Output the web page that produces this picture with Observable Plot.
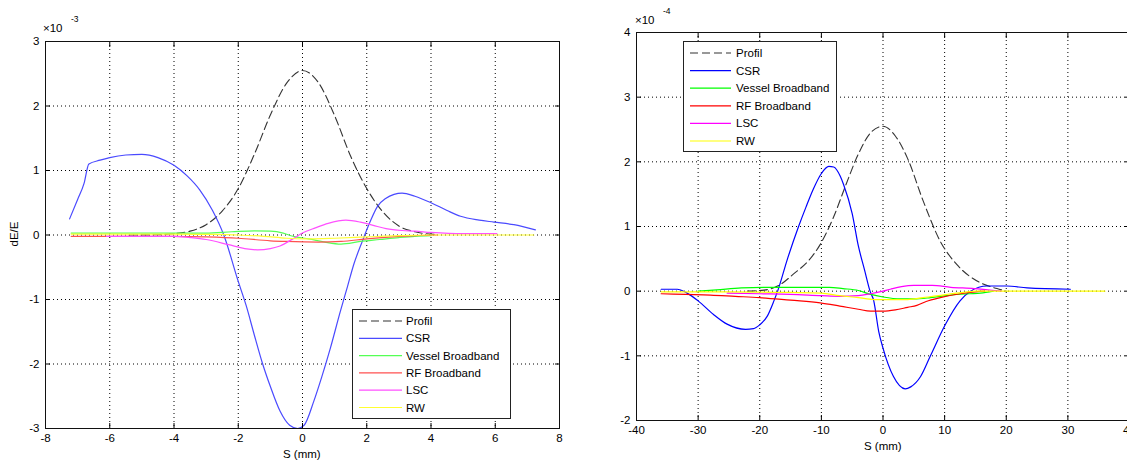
<!DOCTYPE html>
<html><head><meta charset="utf-8">
<script src="https://cdn.jsdelivr.net/npm/d3@7"></script>
<script src="https://cdn.jsdelivr.net/npm/@observablehq/plot@0.6"></script>
<style>
body{margin:0;background:#fff;}
#wrap{position:relative;width:1127px;height:461px;overflow:hidden;background:#fff;font-family:"Liberation Sans",Arial,Helvetica,sans-serif;color:#000;}
.abs{position:absolute;white-space:nowrap;line-height:1;}
</style></head><body><div id="wrap"></div>
<script>
// ---------- data ----------
const seriesNames = ["Profil", "CSR", "Vessel Broadband", "RF Broadband", "LSC", "RW"];

const leftXTicks = [-8, -6, -4, -2, 0, 2, 4, 6, 8];
const leftYTicks = [-3, -2, -1, 0, 1, 2, 3];
const rightXTicks = [-40, -30, -20, -10, 0, 10, 20, 30, 40];
const rightYTicks = [-2, -1, 0, 1, 2, 3, 4];

// left panel, dE/E in units of 1e-3, S in mm
const leftProfil = [[-5.4,0],[-4.5,0.005],[-4,0.02],[-3.5,0.06],[-3,0.16],[-2.5,0.37],[-2,0.72],[-1.5,1.25],[-1,1.86],[-0.5,2.35],[0,2.55],[0.5,2.36],[1,1.85],[1.5,1.22],[2,0.72],[2.5,0.36],[3,0.14],[3.5,0.05],[4.1,0.01]];
const leftCSR = [[-7.25,0.25],[-7,0.55],[-6.8,0.8],[-6.65,1.1],[-6.3,1.16],[-6,1.2],[-5.5,1.24],[-5,1.25],[-4.5,1.2],[-4,1.08],[-3.6,0.92],[-3.2,0.7],[-2.8,0.38],[-2.45,0],[-2,-0.72],[-1.75,-1.1],[-1.5,-1.55],[-1.24,-2.0],[-1,-2.35],[-0.7,-2.73],[-0.4,-2.95],[-0.15,-3.0],[0.05,-2.95],[0.35,-2.58],[0.6,-2.2],[0.87,-1.75],[1.18,-1.18],[1.4,-0.8],[1.6,-0.45],[1.86,-0.1],[2.1,0.2],[2.33,0.44],[2.6,0.57],[2.85,0.63],[3.1,0.65],[3.5,0.6],[4,0.5],[4.5,0.38],[4.92,0.29],[5.5,0.23],[5.96,0.2],[6.58,0.16],[7.25,0.08]];
const leftVessel = [[-7.2,0.03],[-5,0.03],[-3,0.03],[-2.2,0.05],[-1.5,0.065],[-1,0.06],[-0.6,0.03],[-0.3,-0.02],[0.2,-0.06],[0.7,-0.11],[1.2,-0.14],[1.8,-0.1],[2.4,-0.07],[3,-0.04],[3.5,-0.02],[4,-0.01]];
const leftRF = [[-7.2,-0.02],[-4,-0.02],[-3,-0.03],[-2,-0.05],[-1,-0.09],[-0.5,-0.1],[0.5,-0.11],[1.2,-0.1],[2,-0.06],[2.8,-0.03],[3.5,-0.01],[4.2,0]];
const leftLSC = [[-6.1,-0.02],[-5,-0.02],[-4,-0.02],[-3.5,-0.04],[-3,-0.07],[-2.3,-0.15],[-1.8,-0.21],[-1.4,-0.23],[-1,-0.21],[-0.7,-0.17],[-0.3,-0.06],[0,0.03],[0.4,0.11],[0.8,0.18],[1.35,0.23],[1.8,0.2],[2.2,0.15],[2.6,0.1],[3.1,0.07],[3.5,0.06],[4,0.04],[5,0.02],[6.05,0.02]];
const leftRW = [[-7.2,0.015],[-4,0.015],[-3,0.01],[-2,0],[-1.2,-0.02],[-0.5,-0.05],[0.2,-0.06],[1,-0.05],[2,-0.03],[3,-0.01],[4,0],[7.2,0]];

// right panel, dE/E in units of 1e-4, S in mm
const rightProfil = [[-22,0],[-19,0.02],[-16.7,0.1],[-14.6,0.26],[-12,0.48],[-10.2,0.72],[-8,1.15],[-6,1.65],[-4,2.12],[-2,2.45],[0,2.55],[2,2.4],[4,2.05],[6.5,1.4],[9.3,0.77],[12,0.41],[15.8,0.13],[18.5,0.04],[20,0]];
const rightCSR = [[-36,0.03],[-33.4,0.03],[-31.8,-0.03],[-30,-0.15],[-27.5,-0.36],[-25.3,-0.51],[-22.3,-0.59],[-21,-0.58],[-20,-0.52],[-18.8,-0.39],[-17.7,-0.15],[-17.1,0],[-15.5,0.5],[-13.7,1.0],[-12.5,1.3],[-11.3,1.58],[-10,1.82],[-8.8,1.93],[-8,1.92],[-6.95,1.78],[-6.4,1.65],[-5,1.2],[-4,0.7],[-3,0.33],[-2.1,0],[-1.5,-0.15],[-0.7,-0.62],[0,-0.88],[1.7,-1.32],[3.6,-1.51],[4.5,-1.48],[6.1,-1.32],[7.7,-1.0],[10.1,-0.52],[12.5,-0.15],[14.2,0],[16.9,0.08],[20.1,0.08],[23.4,0.05],[30.4,0.03]];
const rightVessel = [[-30,0],[-27,0.02],[-23,0.05],[-18,0.06],[-12,0.06],[-8.7,0.06],[-6.5,0.04],[-4,0.01],[-2,-0.05],[0,-0.09],[2.8,-0.12],[5,-0.12],[7.7,-0.1],[11,-0.06],[14,-0.04],[15.8,-0.03],[17.9,0]];
const rightRF = [[-36,-0.04],[-32,-0.05],[-28,-0.06],[-24,-0.08],[-20,-0.1],[-15,-0.14],[-10.2,-0.18],[-7,-0.23],[-4,-0.28],[-2,-0.31],[0,-0.31],[2,-0.29],[4,-0.25],[5.5,-0.22],[7,-0.16],[9.3,-0.1],[12.5,-0.04],[15,-0.01],[16.5,0]];
const rightLSC = [[-25.3,-0.03],[-20,-0.04],[-15,-0.05],[-10,-0.07],[-7,-0.08],[-4,-0.07],[-2,-0.04],[0,0],[1.2,0.03],[3,0.07],[5,0.09],[8,0.09],[11,0.06],[14.8,0.04],[17,0.02],[19.2,0]];
const rightRW = [[-36,-0.01],[-25,-0.01],[-15,-0.02],[-10,-0.03],[-7,-0.07],[-4,-0.1],[-1.5,-0.13],[2,-0.13],[4,-0.13],[6.5,-0.1],[9,-0.07],[11,-0.04],[13,-0.02],[15,0],[36,0]];

// ---------- styles ----------
const leftColors = ["#333333", "#4a4aff", "#55ff55", "#ff5050", "#ff50ff", "#ffff30"];
const rightColors = ["#333333", "#0000ff", "#00ff00", "#ff0000", "#ff00ff", "#ffff00"];
const FONT = "'Liberation Sans', Arial, Helvetica, sans-serif";

const wrap = document.getElementById("wrap");

function panel({series, colors, xDomain, yDomain, xTicks, yTicks, width, height, margins, left}) {
  const fmt = d => String(d);
  const blank = () => "";
  const marks = [
    Plot.gridX(xTicks, {stroke: "#000", strokeOpacity: 1, strokeWidth: 1, strokeDasharray: "1,3"}),
    Plot.gridY(yTicks, {stroke: "#000", strokeOpacity: 1, strokeWidth: 1, strokeDasharray: "1,3"}),
  ];
  series.forEach((data, i) => {
    marks.push(Plot.line(data, {
      x: d => d[0], y: d => d[1], stroke: colors[i], strokeWidth: i === 0 ? 1.1 : 1.2,
      strokeDasharray: i === 0 ? "8,4" : null, curve: "monotone-x"
    }));
  });
  marks.push(
    Plot.axisX(xTicks, {anchor: "bottom", tickSize: 0, tickPadding: 5, tickFormat: fmt, label: null, fontSize: 11.5}),
    Plot.axisY(yTicks, {anchor: "left", tickSize: 0, tickPadding: 6, tickFormat: fmt, label: null, fontSize: 11.5}),
    Plot.axisX(xTicks, {anchor: "bottom", tickSize: -5, tickFormat: blank, label: null}),
    Plot.axisX(xTicks, {anchor: "top", tickSize: -5, tickFormat: blank, label: null}),
    Plot.axisY(yTicks, {anchor: "left", tickSize: -5, tickFormat: blank, label: null}),
    Plot.axisY(yTicks, {anchor: "right", tickSize: -5, tickFormat: blank, label: null}),
    Plot.frame({stroke: "#111", strokeWidth: 1})
  );
  const svg = Plot.plot({
    width, height,
    marginLeft: margins[0], marginRight: margins[1], marginTop: margins[2], marginBottom: margins[3],
    x: {domain: xDomain, label: null},
    y: {domain: yDomain, label: null},
    style: {fontFamily: FONT, fontSize: "11.5px", background: "transparent", color: "#000", overflow: "visible"},
    marks
  });
  svg.style.position = "absolute";
  svg.style.left = left + "px";
  svg.style.top = "0px";
  wrap.appendChild(svg);
}

panel({
  series: [leftProfil, leftCSR, leftVessel, leftRF, leftLSC, leftRW],
  colors: leftColors, xDomain: [-8, 8], yDomain: [-3, 3], xTicks: leftXTicks, yTicks: leftYTicks,
  width: 565, height: 461, margins: [45, 6, 41, 33], left: 0
});
panel({
  series: [rightProfil, rightCSR, rightVessel, rightRF, rightLSC, rightRW],
  colors: rightColors, xDomain: [-40, 40], yDomain: [-2, 4], xTicks: rightXTicks, yTicks: rightYTicks,
  width: 570, height: 461, margins: [66, 11, 32, 41], left: 570
});

// ---------- text labels ----------
function label(html, x, y, size, extra) {
  const d = document.createElement("div");
  d.className = "abs";
  d.innerHTML = html;
  d.style.left = x + "px";
  d.style.top = y + "px";
  d.style.fontSize = size + "px";
  if (extra) Object.assign(d.style, extra);
  wrap.appendChild(d);
  return d;
}
// exponents
label("×10", 43, 23, 11.5);
label("-3", 71, 15, 8.5);
label("×10", 635, 15, 11.5);
label("-4", 663, 7, 8.5);
// x labels
label("S (mm)", 283, 449, 11.5);
label("S (mm)", 864, 441, 11.5);
// y label
label("dE/E", 15, 234, 11.5, {transform: "translate(-50%,-50%) rotate(-90deg)"});

// ---------- legends ----------
function legend(x, y, w, h, y0, dy, l0, l1, tx, colors) {
  const svg = d3.create("svg").attr("width", w + 1).attr("height", h + 1)
    .style("position", "absolute").style("left", x + "px").style("top", y + "px");
  svg.append("rect").attr("x", 0.5).attr("y", 0.5).attr("width", w).attr("height", h)
    .attr("fill", "#fff").attr("stroke", "#222").attr("stroke-width", 1);
  seriesNames.forEach((name, i) => {
    const yy = y0 + i * dy;
    svg.append("line").attr("x1", l0).attr("x2", l1).attr("y1", yy).attr("y2", yy)
      .attr("stroke", colors[i]).attr("stroke-width", 1.2)
      .attr("stroke-dasharray", i === 0 ? "8,4" : null);
    svg.append("text").attr("x", tx).attr("y", yy).attr("dy", "0.35em")
      .attr("font-family", FONT).attr("font-size", 11.5).attr("fill", "#000").text(name);
  });
  wrap.appendChild(svg.node());
}
legend(352, 309, 158, 109, 12, 17.3, 7, 50, 54, leftColors);
legend(683, 41, 153, 110, 12, 17.6, 7, 48, 53, rightColors);
</script>
</body></html>
